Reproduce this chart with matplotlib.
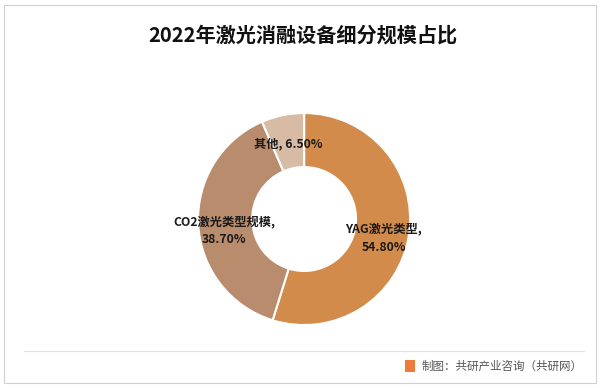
import matplotlib.pyplot as plt
from matplotlib.patches import Rectangle
from matplotlib.lines import Line2D

plt.rcParams["font.family"] = ["Noto Sans CJK SC", "DejaVu Sans"]

title = "2022年激光消融设备细分规模占比"
categories = ["YAG激光类型", "CO2激光类型规模", "其他"]
shares = [54.8, 38.7, 6.5]
colors = ["#D38B4B", "#B88C6D", "#D8BBA5"]
label_pos = [(0.75, -0.18), (-0.755, -0.11), (-0.15, 0.71)]
source = "制图：共研产业咨询（共研网）"

fig = plt.figure(figsize=(6, 3.88), dpi=100)
fig.patch.set_facecolor("white")

# outer frame and footer separator
fig.add_artist(Rectangle((0.007, 0.012), 0.986, 0.976, transform=fig.transFigure,
                         fill=False, edgecolor="#D0D0D0", linewidth=0.8))
fig.add_artist(Line2D([0.04, 0.973], [0.095, 0.095], transform=fig.transFigure,
                      color="#E0E0E0", linewidth=0.8))

fig.text(0.505, 0.91, title, ha="center", va="center", fontsize=14.5, fontweight="bold", color="#111111")

ax = fig.add_axes([0.286, 0.094, 0.4417, 0.683])
ax.pie(shares, colors=colors, startangle=90, counterclock=False, radius=1.0,
       wedgeprops=dict(width=0.51, edgecolor="white", linewidth=1.5))
ax.set_xlim(-1.25, 1.25)
ax.set_ylim(-1.25, 1.25)
ax.set_aspect("equal")
ax.axis("off")

for name, val, (x, y) in zip(categories, shares, label_pos):
    if name == "其他":
        txt = f"{name}, {val:.2f}%"
    else:
        txt = f"{name},\n{val:.2f}%"
    ax.text(x, y, txt, ha="center", va="center", fontsize=8.8, fontweight="bold",
            color="#1A1A1A", linespacing=1.5)

# source footer with small logo
fig.add_artist(Rectangle((0.675, 0.04), 0.017, 0.032, transform=fig.transFigure,
                         facecolor="#F07A3A", edgecolor="none"))
fig.text(0.703, 0.056, source, ha="left", va="center", fontsize=8.3, color="#555555")

fig.savefig("out.png", dpi=100)
